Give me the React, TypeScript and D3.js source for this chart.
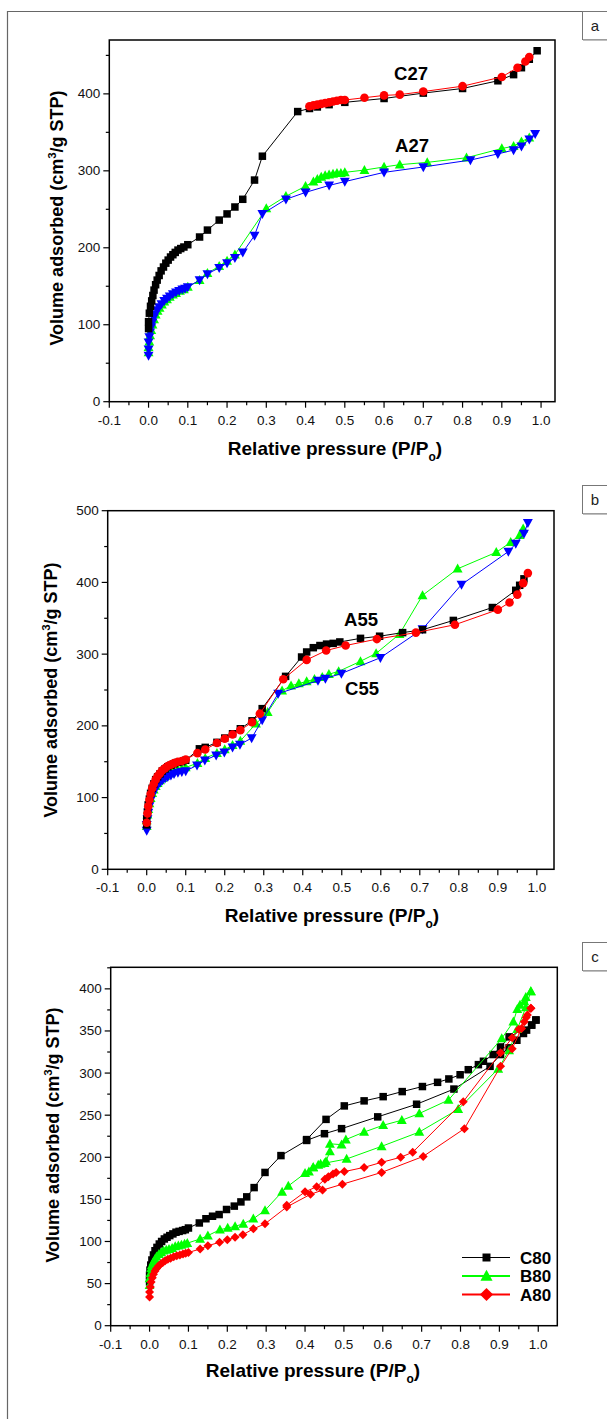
import React from "react";
import * as d3 from "d3";

type Pt = [number, number];

// ---------- Panel a ----------
const c27Ads: Pt[] = [[0,95],[0,104],[0.002,115],[0.005,124],[0.008,131],[0.011,138],[0.014,145],[0.018,152],[0.022,158],[0.027,164],[0.032,170],[0.038,175],[0.044,180],[0.05,184],[0.056,188],[0.062,191],[0.068,194],[0.075,197],[0.082,199],[0.09,201],[0.1,204],[0.13,214],[0.15,223],[0.18,236],[0.2,244],[0.22,253],[0.24,263],[0.27,288],[0.29,319],[0.38,377],[0.41,381],[0.43,383],[0.46,386],[0.5,389],[0.6,394],[0.7,401],[0.8,407],[0.89,417],[0.93,425],[0.95,434],[0.97,445],[0.99,456]];
const c27Des: Pt[] = [[0.97,448],[0.96,442],[0.94,434],[0.9,422],[0.8,410],[0.7,403],[0.64,399],[0.6,398],[0.55,395],[0.5,392],[0.49,392],[0.48,391],[0.47,390],[0.46,389],[0.45,388],[0.44,387],[0.43,386],[0.42,385],[0.41,384]];
const a27Green: Pt[] = [[0,64],[0,71],[0.002,78],[0.004,86],[0.007,93],[0.01,100],[0.014,107],[0.018,113],[0.023,118],[0.028,122],[0.034,126],[0.04,130],[0.047,133],[0.054,136],[0.062,139],[0.07,141],[0.08,144],[0.09,146],[0.1,149],[0.13,158],[0.15,167],[0.18,176],[0.2,183],[0.22,191],[0.3,251],[0.35,267],[0.4,280],[0.42,286],[0.43,289],[0.44,292],[0.45,294],[0.46,295],[0.47,296],[0.48,297],[0.49,297],[0.5,298],[0.55,301],[0.6,305],[0.64,308],[0.71,311],[0.81,317],[0.9,329],[0.93,332],[0.95,338],[0.97,343]];
const a27Blue: Pt[] = [[0,60],[0,68],[0,77],[0.002,84],[0.004,90],[0.007,97],[0.01,103],[0.013,109],[0.017,114],[0.022,119],[0.027,123],[0.033,127],[0.04,131],[0.047,134],[0.054,137],[0.062,140],[0.07,142],[0.078,144],[0.086,146],[0.093,147],[0.1,149],[0.13,158],[0.15,166],[0.18,174],[0.2,180],[0.22,187],[0.24,194],[0.27,216],[0.29,244],[0.35,263],[0.4,272],[0.46,281],[0.5,286],[0.6,298],[0.7,305],[0.82,314],[0.89,322],[0.93,327],[0.95,332],[0.97,341],[0.985,348]];

// ---------- Panel b ----------
const a55Black: Pt[] = [[0,62],[0,70],[0.002,80],[0.004,90],[0.007,98],[0.01,106],[0.014,113],[0.018,119],[0.023,125],[0.028,129],[0.034,133],[0.04,137],[0.047,140],[0.054,143],[0.062,145],[0.07,147],[0.08,149],[0.09,150],[0.1,152],[0.135,168],[0.15,170],[0.18,177],[0.2,183],[0.22,189],[0.24,196],[0.27,207],[0.296,224],[0.356,269],[0.397,296],[0.41,303],[0.427,309],[0.444,312],[0.461,314],[0.478,315],[0.495,317],[0.548,322],[0.597,325],[0.656,330],[0.707,334],[0.786,347],[0.886,365],[0.946,389],[0.956,396],[0.967,405]];
const a55Red: Pt[] = [[0,65],[0.002,78],[0.004,88],[0.007,97],[0.01,105],[0.014,113],[0.018,119],[0.023,125],[0.028,130],[0.034,134],[0.04,138],[0.047,141],[0.054,144],[0.062,146],[0.07,148],[0.08,150],[0.09,151],[0.1,153],[0.13,162],[0.15,167],[0.18,176],[0.2,182],[0.22,188],[0.24,194],[0.27,205],[0.29,217],[0.35,265],[0.41,292],[0.46,305],[0.51,312],[0.59,321],[0.69,330],[0.79,341],[0.9,362],[0.93,372],[0.95,383],[0.965,399],[0.977,413]];
const c55Green: Pt[] = [[0,60],[0,68],[0.002,76],[0.004,84],[0.007,92],[0.01,99],[0.014,106],[0.018,111],[0.023,116],[0.028,120],[0.034,124],[0.04,127],[0.047,130],[0.054,133],[0.062,135],[0.07,137],[0.08,139],[0.09,140],[0.1,142],[0.13,148],[0.15,155],[0.18,162],[0.2,167],[0.22,173],[0.24,179],[0.28,203],[0.31,219],[0.347,249],[0.37,256],[0.39,259],[0.41,262],[0.43,265],[0.45,268],[0.467,272],[0.492,276],[0.548,290],[0.588,301],[0.648,328],[0.707,382],[0.797,419],[0.896,442],[0.933,456],[0.956,466],[0.965,475]];
const c55Blue: Pt[] = [[0,54],[0,62],[0.002,70],[0.004,79],[0.007,88],[0.01,96],[0.014,103],[0.018,108],[0.023,113],[0.028,117],[0.034,121],[0.04,124],[0.047,127],[0.054,129],[0.062,131],[0.07,133],[0.08,135],[0.09,136],[0.1,137],[0.129,145],[0.149,152],[0.178,159],[0.199,163],[0.22,170],[0.239,174],[0.269,183],[0.296,208],[0.337,245],[0.439,263],[0.458,266],[0.499,273],[0.599,295],[0.707,335],[0.807,397],[0.927,443],[0.946,454],[0.967,468],[0.977,483]];

// ---------- Panel c ----------
const c80Ads: Pt[] = [[0,52],[0,60],[0.001,66],[0.003,72],[0.006,78],[0.01,84],[0.014,89],[0.019,93],[0.025,97],[0.031,100],[0.038,103],[0.045,105],[0.052,107],[0.06,109],[0.068,111],[0.076,112],[0.085,113],[0.092,114],[0.1,116],[0.128,122],[0.145,127],[0.162,130],[0.179,132],[0.198,138],[0.218,142],[0.235,147],[0.25,153],[0.269,164],[0.297,182],[0.338,202],[0.404,220],[0.45,228],[0.494,234],[0.587,248],[0.687,263],[0.783,281],[0.876,308],[0.903,322],[0.925,330],[0.945,339],[0.962,347],[0.97,351],[0.983,357],[0.994,363]];
const c80Des: Pt[] = [[0.994,363],[0.983,357],[0.925,343],[0.903,331],[0.884,322],[0.859,314],[0.846,310],[0.82,304],[0.799,298],[0.77,293],[0.741,289],[0.702,284],[0.65,278],[0.601,272],[0.552,267],[0.501,261],[0.454,245],[0.404,221]];
const b80Ads: Pt[] = [[0,48],[0,56],[0.002,62],[0.004,68],[0.006,72],[0.01,76],[0.014,79],[0.018,82],[0.024,85],[0.03,87],[0.036,89],[0.043,90],[0.05,91],[0.058,92],[0.066,94],[0.074,95],[0.082,96],[0.09,97],[0.097,98],[0.13,103],[0.15,107],[0.181,114],[0.201,116],[0.22,118],[0.241,121],[0.267,127],[0.297,137],[0.341,159],[0.357,166],[0.4,181],[0.41,183],[0.421,188],[0.434,191],[0.45,193],[0.507,198],[0.597,213],[0.694,230],[0.794,257],[0.897,305],[0.925,327],[0.946,352],[0.968,378],[0.981,397]];
const b80Des: Pt[] = [[0.981,397],[0.968,390],[0.964,385],[0.953,381],[0.946,376],[0.936,361],[0.906,341],[0.769,268],[0.694,252],[0.649,244],[0.601,238],[0.552,230],[0.505,221],[0.494,215],[0.464,216],[0.464,207],[0.454,195],[0.44,192],[0.421,188]];
const a80Ads: Pt[] = [[0,34],[0,40],[0.002,46],[0.004,52],[0.007,57],[0.01,61],[0.014,65],[0.018,68],[0.023,71],[0.028,73],[0.034,75],[0.04,77],[0.047,79],[0.054,80],[0.062,82],[0.07,83],[0.078,84],[0.086,85],[0.093,86],[0.1,87],[0.13,91],[0.15,95],[0.18,99],[0.2,102],[0.22,105],[0.24,108],[0.267,115],[0.297,121],[0.353,141],[0.414,156],[0.445,161],[0.496,168],[0.597,182],[0.704,201],[0.81,234],[0.903,308],[0.933,329],[0.957,353],[0.969,366],[0.981,377]];
const a80Des: Pt[] = [[0.981,377],[0.972,369],[0.964,361],[0.95,352],[0.933,342],[0.903,324],[0.807,266],[0.677,206],[0.646,200],[0.597,194],[0.552,188],[0.501,183],[0.48,182],[0.472,180],[0.46,177],[0.451,174],[0.43,165],[0.4,159],[0.353,143]];

const xTicks = [-0.1, 0, 0.1, 0.2, 0.3, 0.4, 0.5, 0.6, 0.7, 0.8, 0.9, 1.0];
const legendLabels = ["C80", "B80", "A80"];

type Marker = "square" | "circle" | "up" | "down" | "diamond";
interface Series { data: Pt[]; color: string; marker: Marker; }

interface PanelCfg {
  letter: string;
  left: number; right: number; top: number; bottom: number;
  xMax: number; yMax: number; yStep: number;
  series: Series[];
  labels: { text: string; x: number; y: number }[];
  yTitleX: number; yTitleY: number; xTitleX: number; xTitleY: number;
  letterY: number;
  legend?: boolean;
}

const FONT = "Liberation Sans, Arial, sans-serif";

function markerPath(m: Marker, s: number): string {
  const h = s / 2;
  switch (m) {
    case "square": return `M${-h},${-h}h${s}v${s}h${-s}Z`;
    case "up": return `M0,${-h * 1.15}L${h * 1.1},${h * 0.85}L${-h * 1.1},${h * 0.85}Z`;
    case "down": return `M0,${h * 1.15}L${h * 1.1},${-h * 0.85}L${-h * 1.1},${-h * 0.85}Z`;
    case "diamond": return `M0,${-h * 1.2}L${h * 1.2},0L0,${h * 1.2}L${-h * 1.2},0Z`;
    default: return "";
  }
}

function MarkerShape({ m, x, y, color, size }: { m: Marker; x: number; y: number; color: string; size: number }) {
  if (m === "circle") return <circle cx={x} cy={y} r={size / 2 + 0.3} fill={color} />;
  return <path d={markerPath(m, size)} transform={`translate(${x},${y})`} fill={color} />;
}

const sizes: Record<Marker, number> = { square: 7.5, circle: 8, up: 9, down: 9, diamond: 7.5 };

function Panel({ cfg }: { cfg: PanelCfg }) {
  const x = d3.scaleLinear().domain([-0.1, cfg.xMax]).range([cfg.left, cfg.right]);
  const y = d3.scaleLinear().domain([0, cfg.yMax]).range([cfg.bottom, cfg.top]);
  const line = d3.line<Pt>().x((d) => x(d[0])).y((d) => y(d[1]));
  const yMajor = d3.range(0, cfg.yMax + 0.001, cfg.yStep).filter((v) => v <= cfg.yMax);
  const yMinor = d3.range(cfg.yStep / 2, cfg.yMax, cfg.yStep);
  const xMinor = d3.range(-0.05, cfg.xMax, 0.1);
  const lw = 1.5;
  return (
    <g>
      {cfg.series.map((s, i) => (
        <g key={i}>
          <path d={line(s.data) || ""} fill="none" stroke={s.color} strokeWidth={1} />
          {s.data.map((d, j) => (
            <MarkerShape key={j} m={s.marker} x={x(d[0])} y={y(d[1])} color={s.color} size={sizes[s.marker]} />
          ))}
        </g>
      ))}
      <rect x={cfg.left} y={cfg.top} width={cfg.right - cfg.left} height={cfg.bottom - cfg.top} fill="none" stroke="#000" strokeWidth={lw} />
      {yMajor.map((v) => (
        <g key={"ym" + v}>
          <line x1={cfg.left - 6} x2={cfg.left} y1={y(v)} y2={y(v)} stroke="#000" strokeWidth={1.2} />
          <text x={cfg.left - 9} y={y(v) + 4.5} textAnchor="end" fontSize={13.5} fontFamily={FONT} fill="#111">{v}</text>
        </g>
      ))}
      {yMinor.map((v) => (
        <line key={"yn" + v} x1={cfg.left - 3.5} x2={cfg.left} y1={y(v)} y2={y(v)} stroke="#000" strokeWidth={1.2} />
      ))}
      {xTicks.map((v) => (
        <g key={"xm" + v}>
          <line x1={x(v)} x2={x(v)} y1={cfg.bottom} y2={cfg.bottom + 6} stroke="#000" strokeWidth={1.2} />
          <text x={x(v)} y={cfg.bottom + 23} textAnchor="middle" fontSize={13.5} fontFamily={FONT} fill="#111">{v.toFixed(1)}</text>
        </g>
      ))}
      {xMinor.map((v) => (
        <line key={"xn" + v} x1={x(v)} x2={x(v)} y1={cfg.bottom} y2={cfg.bottom + 3.5} stroke="#000" strokeWidth={1.2} />
      ))}
      <text x={cfg.xTitleX} y={cfg.xTitleY} textAnchor="middle" fontSize={19} fontWeight="bold" fontFamily={FONT}>
        Relative pressure (P/P<tspan fontSize={12} dy={6}>o</tspan><tspan dy={-6}>)</tspan>
      </text>
      <text transform={`translate(${cfg.yTitleX},${cfg.yTitleY}) rotate(-90)`} textAnchor="middle" fontSize={18} fontWeight="bold" fontFamily={FONT}>
        Volume adsorbed (cm<tspan fontSize={11.5} dy={-7}>3</tspan><tspan dy={7}>/g STP)</tspan>
      </text>
      {cfg.labels.map((l) => (
        <text key={l.text} x={l.x} y={l.y} textAnchor="middle" fontSize={18.5} fontWeight="bold" fontFamily={FONT}>{l.text}</text>
      ))}
      <rect x={582.5} y={cfg.letterY} width={30} height={28} fill="#fff" stroke="#777" strokeWidth={1} />
      <line x1={583} x2={612} y1={cfg.letterY + 28.5} y2={cfg.letterY + 28.5} stroke="#aaa" strokeWidth={1.5} />
      <text x={595} y={cfg.letterY + 19} textAnchor="middle" fontSize={15} fontFamily={FONT} fill="#222">{cfg.letter}</text>
      {cfg.legend && (
        <g>
          {legendLabels.map((lab, i) => {
            const s = cfg.series[i * 2];
            const ly = 1257.5 + i * 18.5;
            return (
              <g key={lab}>
                <line x1={462} x2={510} y1={ly} y2={ly} stroke={s.color} strokeWidth={i === 0 ? 1 : 2} />
                <MarkerShape m={s.marker} x={486.5} y={ly} color={s.color} size={i === 0 ? 8 : 11} />
                <text x={520} y={ly + 6} fontSize={17} fontWeight="bold" fontFamily={FONT}>{lab}</text>
              </g>
            );
          })}
        </g>
      )}
    </g>
  );
}

const BLACK = "#000000", RED = "#ff0000", GREEN = "#00ff00", BLUE = "#0000ff";

const panels: PanelCfg[] = [
  {
    letter: "a", left: 109.3, right: 555, top: 40, bottom: 401.7, xMax: 1.0355, yMax: 470, yStep: 100,
    series: [
      { data: a27Green, color: GREEN, marker: "up" },
      { data: a27Blue, color: BLUE, marker: "down" },
      { data: c27Ads, color: BLACK, marker: "square" },
      { data: c27Des, color: RED, marker: "circle" },
    ],
    labels: [{ text: "C27", x: 411, y: 79.5 }, { text: "A27", x: 412, y: 151.5 }],
    yTitleX: 63, yTitleY: 218, xTitleX: 335, xTitleY: 455, letterY: 11.5,
  },
  {
    letter: "b", left: 107.7, right: 554, top: 510.7, bottom: 869.3, xMax: 1.044, yMax: 500, yStep: 100,
    series: [
      { data: c55Green, color: GREEN, marker: "up" },
      { data: c55Blue, color: BLUE, marker: "down" },
      { data: a55Black, color: BLACK, marker: "square" },
      { data: a55Red, color: RED, marker: "circle" },
    ],
    labels: [{ text: "A55", x: 361, y: 625.5 }, { text: "C55", x: 362, y: 694.5 }],
    yTitleX: 57, yTitleY: 690, xTitleX: 332, xTitleY: 922, letterY: 485.5,
  },
  {
    letter: "c", left: 110.7, right: 557.3, top: 967.3, bottom: 1325.7, xMax: 1.049, yMax: 425.6, yStep: 50,
    series: [
      { data: c80Ads, color: BLACK, marker: "square" },
      { data: c80Des, color: BLACK, marker: "square" },
      { data: b80Ads, color: GREEN, marker: "up" },
      { data: b80Des, color: GREEN, marker: "up" },
      { data: a80Ads, color: RED, marker: "diamond" },
      { data: a80Des, color: RED, marker: "diamond" },
    ],
    labels: [],
    yTitleX: 59, yTitleY: 1135, xTitleX: 313, xTitleY: 1377, letterY: 942.5, legend: true,
  },
];

export default function App() {
  return (
    <svg width={607} height={1419} style={{ position: "absolute", left: 0, top: 0, background: "#fff" }}>
      <rect x={0} y={0} width={607} height={1419} fill="#fff" />
      <line x1={7.5} x2={7.5} y1={11} y2={1419} stroke="#666" strokeWidth={1.2} />
      <line x1={7} x2={607} y1={11.5} y2={11.5} stroke="#666" strokeWidth={1.2} />
      {panels.map((p) => <Panel key={p.letter} cfg={p} />)}
    </svg>
  );
}
